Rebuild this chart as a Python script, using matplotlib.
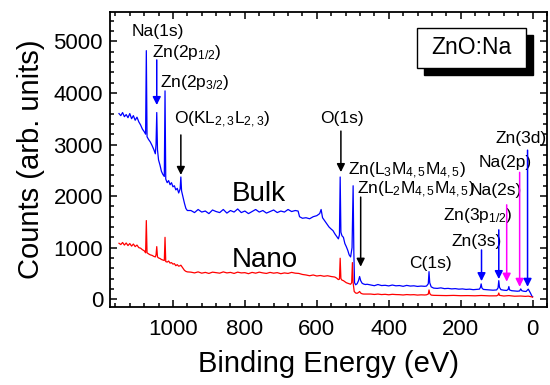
import matplotlib
matplotlib.use("Agg")
import matplotlib.pyplot as plt
from matplotlib.patches import Rectangle
from matplotlib.ticker import MultipleLocator

plt.rcParams['font.family'] = ['Liberation Sans', 'DejaVu Sans']
plt.rcParams['mathtext.fontset'] = 'custom'
plt.rcParams['mathtext.rm'] = 'Liberation Sans'
plt.rcParams['mathtext.it'] = 'Liberation Sans:italic'
plt.rcParams['mathtext.bf'] = 'Liberation Sans:bold'

# ---------------- data ----------------
bulk_x = [1150, 1145, 1140, 1135, 1130, 1125, 1120, 1115, 1110, 1105, 1100, 1095, 1090, 1085,
          1080, 1076, 1074, 1072, 1068, 1063, 1058, 1053, 1049, 1047, 1045, 1043, 1040, 1036,
          1032, 1028, 1024, 1022, 1020, 1016, 1012, 1008, 1004, 1000, 996, 992, 988, 984, 980,
          978, 976, 972, 968, 964, 960,
          950, 940, 930, 920, 910, 900, 890, 880, 870, 860, 850, 840, 830, 820, 810, 800, 790,
          780, 770, 760, 750, 740, 730, 720, 710, 700, 690, 680, 670, 660,
          652, 648, 640, 630, 620, 610, 600, 592, 588, 584, 578, 572, 566, 560, 555, 550, 545,
          540, 537, 535, 533, 530, 526, 522, 518, 514, 510, 506, 502, 499, 497, 495, 492, 488,
          484, 481, 478, 474, 470, 465, 460,
          450, 440, 430, 420, 410, 400, 390, 380, 370, 360, 350, 340, 330, 320, 310, 300,
          295, 290, 288, 286, 282, 275, 265, 255, 245, 235, 225, 215, 205, 195, 185, 175, 165,
          155, 148, 145, 143, 141, 137, 130, 120, 110, 100, 96, 94, 92, 88, 80, 72, 68, 66, 64,
          58, 50, 42, 36, 33, 30, 25, 18, 14, 12, 10, 6, 2, 0]
bulk_y = [3600, 3560, 3620, 3540, 3580, 3520, 3600, 3500, 3560, 3470, 3530, 3440, 3380, 3300,
          3250, 3200, 4820, 3150, 3100, 3050, 2980, 2900, 2820, 3000, 3620, 2900, 2700, 2600,
          2480, 2420, 2380, 4040, 2330, 2260, 2300, 2220, 2260, 2180, 2200, 2120, 2150, 2060, 2140,
          2370, 2100, 1980, 1860, 1760, 1720,
          1720, 1680, 1740, 1690, 1710, 1660, 1730, 1700, 1680, 1740, 1670, 1720, 1690, 1750,
          1680, 1710, 1660, 1700, 1740, 1690, 1720, 1670, 1700, 1730, 1680, 1710, 1690, 1740,
          1700, 1720,
          1710, 1600, 1570, 1580, 1560, 1600, 1620, 1660, 1740, 1580, 1520, 1460, 1400, 1360,
          1330, 1270, 1220, 1170, 1250, 2370, 1300, 1230, 1200, 1080, 1020, 950, 860, 820, 1000,
          2200, 900, 320, 280, 300, 360, 440, 360, 310, 295, 285, 290,
          275, 262, 285, 265, 270, 258, 275, 260, 265, 250, 268, 255, 260, 248, 255, 250,
          255, 300, 535, 320, 240, 215, 210, 220, 205, 210, 200, 205, 195, 200, 190, 195, 185,
          190, 195, 230, 297, 220, 190, 185, 180, 175, 180, 220, 360, 230, 185, 175, 170, 190,
          245, 180, 165, 160, 155, 160, 200, 165, 155, 150, 180, 195, 170, 120, 60, 50]

nano_x = [1150, 1145, 1140, 1135, 1130, 1125, 1120, 1115, 1110, 1105, 1100, 1095, 1090, 1085,
          1080, 1076, 1074, 1072, 1068, 1063, 1058, 1053, 1049, 1047, 1045, 1043, 1040, 1036,
          1032, 1028, 1024, 1022, 1020, 1016, 1012, 1008, 1004, 1000, 996, 992, 988, 984, 980,
          978, 976, 972, 968, 964, 960,
          950, 940, 930, 920, 910, 900, 890, 880, 870, 860, 850, 840, 830, 820, 810, 800, 790,
          780, 770, 760, 750, 740, 730, 720, 710, 700, 690, 680, 670, 660,
          650, 640, 630, 620, 610, 600, 590, 580, 570, 560, 550, 545, 540, 537, 535, 533, 530,
          526, 522, 518, 514, 510, 506, 503, 501, 499, 496, 492, 488, 484, 481, 478, 474, 470,
          450, 440, 430, 420, 410, 400, 390, 380, 370, 360, 350, 340, 330, 320, 310, 300,
          295, 290, 288, 286, 282, 275, 260, 240, 220, 200, 180, 160, 143, 120, 100, 96, 94, 92,
          80, 66, 50, 33, 20, 12, 6, 2, 0]
nano_y = [1085, 1060, 1100, 1050, 1090, 1040, 1080, 1030, 1070, 1020, 1050, 1000, 990, 960,
          940, 900, 1525, 900, 880, 860, 850, 830, 820, 860, 1020, 820, 800, 790,
          770, 760, 750, 1200, 730, 720, 740, 700, 710, 680, 690, 650, 670, 640, 650,
          660, 640, 600, 560, 540, 530,
          525, 510, 530, 505, 520, 500, 525, 515, 505, 530, 510, 520, 500, 525, 510, 515, 495,
          520, 505, 525, 510, 500, 520, 505, 515, 495, 510, 500, 520, 505,
          500, 480, 470, 455, 470, 450, 460, 445, 455, 440, 430, 410, 380, 390, 795, 400, 370,
          360, 340, 320, 310, 300, 290, 320, 710, 320, 150, 120, 115, 130, 150, 120, 105, 100,
          100, 92, 100, 90, 95, 86, 95, 90, 88, 82, 90, 85, 88, 80, 85, 82,
          85, 100, 180, 110, 80, 75, 72, 70, 74, 68, 70, 66, 72, 65, 66, 80, 120, 75,
          62, 70, 58, 62, 55, 60, 52, 45, 40]

# annotations: (text, x, y) baseline-left in data units
labels = ["Na(1s)", r"Zn(2p$_{\mathrm{1/2}}$)", r"Zn(2p$_{\mathrm{3/2}}$)",
          r"O(KL$_{\mathrm{2,3}}$L$_{\mathrm{2,3}}$)", "O(1s)",
          r"Zn(L$_{\mathrm{3}}$M$_{\mathrm{4,5}}$M$_{\mathrm{4,5}}$)",
          r"Zn(L$_{\mathrm{2}}$M$_{\mathrm{4,5}}$M$_{\mathrm{4,5}}$)",
          "C(1s)", "Zn(3s)", r"Zn(3p$_{\mathrm{1/2}}$)", "Na(2s)", "Na(2p)", "Zn(3d)"]
label_x = [1114, 1058, 1036, 997, 590, 514, 489, 342, 225, 250, 175, 150, 103]
label_y = [5109, 4702, 4109, 3397, 3413, 2409, 2041, 607, 1033, 1537, 2021, 2570, 3023]

# arrows: x, tail y, tip y, colour
arrow_x = [1045, 978, 533, 478, 142, 94, 72, 36, 14]
arrow_tail = [4640, 3185, 3260, 1980, 955, 1345, 1830, 2460, 2890]
arrow_tip = [3765, 2410, 2465, 630, 350, 390, 340, 240, 240]
arrow_col = ['#0000ff', 'black', 'black', 'black', '#0000ff', '#0000ff', '#ff00ff', '#ff00ff', '#0000ff']

# ---------------- figure ----------------
fig = plt.figure(figsize=(5.5, 3.85), dpi=100)
ax = fig.add_axes([0.2, 0.2034, 0.7945, 0.7655])

ax.plot(bulk_x, bulk_y, color='#0000ff', lw=0.9)
ax.plot(nano_x, nano_y, color='#ff0000', lw=0.9)

ax.set_xlim(1175, -40)
ax.set_ylim(-145, 5570)

ax.xaxis.set_major_locator(MultipleLocator(200))
ax.xaxis.set_minor_locator(MultipleLocator(40))
ax.yaxis.set_major_locator(MultipleLocator(1000))
ax.yaxis.set_minor_locator(MultipleLocator(200))
ax.tick_params(which='both', direction='in', top=True, right=True, width=1.1,
               labelsize=16)
ax.tick_params(axis='x', pad=9)
ax.tick_params(axis='y', pad=5)
ax.tick_params(which='major', length=5)
ax.tick_params(which='minor', length=3)
for s in ax.spines.values():
    s.set_linewidth(1.3)

ax.set_xlabel('Binding Energy (eV)', fontsize=21, labelpad=7)
ax.set_ylabel('Counts (arb. units)', fontsize=21, labelpad=6)

for t, x, y in zip(labels, label_x, label_y):
    ax.text(x, y, t, fontsize=12.5, ha='left', va='baseline')

for x, y0, y1, c in zip(arrow_x, arrow_tail, arrow_tip, arrow_col):
    ax.annotate('', xy=(x, y1), xytext=(x, y0),
                arrowprops=dict(arrowstyle='-|>', color=c, lw=1.1, mutation_scale=12,
                                shrinkA=0, shrinkB=0))

ax.text(836, 1911, 'Bulk', fontsize=20, ha='left', va='baseline')
ax.text(836, 632, 'Nano', fontsize=20, ha='left', va='baseline')

# label box with shadow
bx0, bx1, by0, by1 = 0.7025, 0.952, 0.81, 0.9457
dx, dy = 0.016, 0.0238
ax.add_patch(Rectangle((bx0 + dx, by0 - dy), bx1 - bx0, by1 - by0, transform=ax.transAxes,
                       facecolor='black', edgecolor='black', zorder=5))
ax.add_patch(Rectangle((bx0, by0), bx1 - bx0, by1 - by0, transform=ax.transAxes,
                       facecolor='white', edgecolor='black', lw=1.0, zorder=6))
ax.text((bx0 + bx1) / 2, (by0 + by1) / 2, 'ZnO:Na', transform=ax.transAxes,
        fontsize=16.5, ha='center', va='center', zorder=7)

fig.savefig('out.png', dpi=100)
